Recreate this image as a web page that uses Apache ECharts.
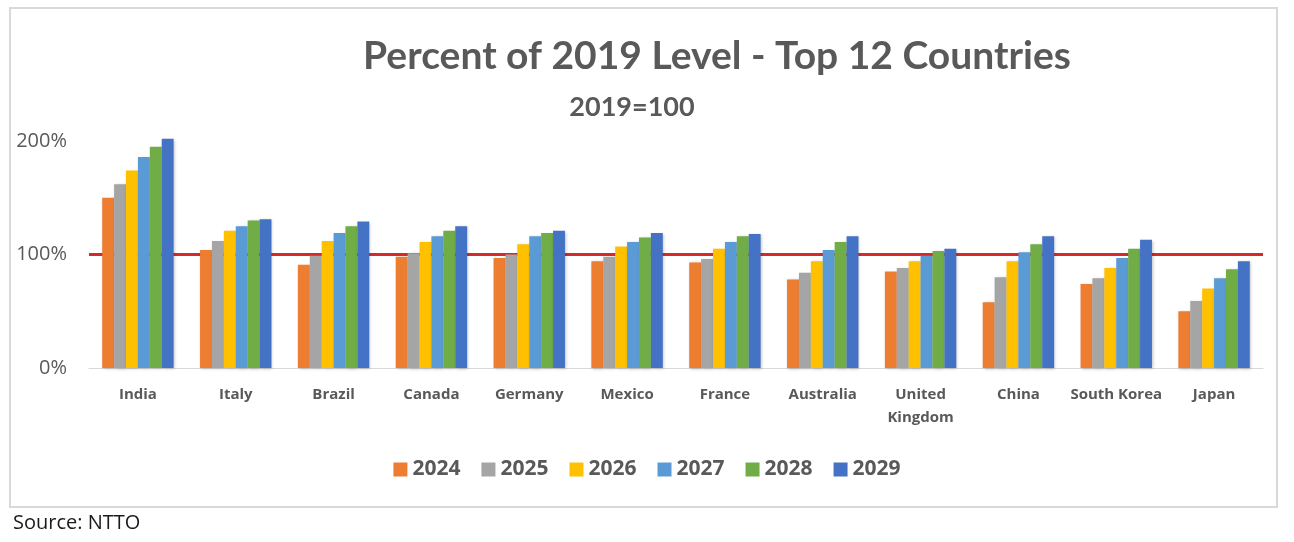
<!DOCTYPE html>
<html><head><meta charset="utf-8">
<script src="https://cdn.jsdelivr.net/npm/echarts@6/dist/echarts.min.js"></script>
<style>html,body{margin:0;padding:0;background:#fff}#c{width:1294px;height:542px}</style>
</head><body><div id="c"></div>
<script>
const countries = ['India','Italy','Brazil','Canada','Germany','Mexico','France','Australia','United\nKingdom','China','South Korea','Japan'];
const years = ['2024','2025','2026','2027','2028','2029'];
const v2024 = [150,104,91,98,97,94,93,78,85,58,74,50];
const v2025 = [162,112,99,101,100,98,96,84,88,80,79,59];
const v2026 = [174,121,112,111,109,107,105,94,94,94,88,70];
const v2027 = [186,125,119,116,116,111,111,104,99,102,97,79];
const v2028 = [195,130,125,121,119,115,116,111,103,109,105,87];
const v2029 = [202,131,129,125,121,119,118,116,105,116,113,94];
const yTicks = [0,100,200];
const baseline = 100;
const colors = ['#ED7D31','#A5A5A5','#FFC000','#5B9BD5','#70AD47','#4472C4'];
const allValues = [v2024,v2025,v2026,v2027,v2028,v2029];

const chart = echarts.init(document.getElementById('c'), null, {renderer:'canvas'});
const series = years.map((y,i)=>({
  name: y,
  type: 'bar',
  data: allValues[i],
  clip: false,
  barGap: '0%',
  barCategoryGap: '27%',
  itemStyle: {color: colors[i], shadowColor:'rgba(0,0,0,0.25)', shadowBlur:3, shadowOffsetX:1, shadowOffsetY:1},
  z: 2
}));
series[0].markLine = {
  silent: true,
  symbol: 'none',
  label: {show:false},
  lineStyle: {color:'#d42a2a', width:3, type:'solid'},
  data: [{yAxis: baseline}],
  z: 1
};
chart.setOption({
  animation: false,
  backgroundColor: '#fff',
  graphic: [{type:'rect', shape:{x:10, y:8, width:1267, height:499}, style:{fill:'none', stroke:'#d9d9d9', lineWidth:2}, silent:true}],
  title: [
    {text:'Percent of 2019 Level - Top 12 Countries', left:717, top:37, padding:0, textAlign:'center',
     textStyle:{fontFamily:'Lato', fontWeight:'bold', fontSize:39, color:'#595959'}},
    {text:'2019=100', left:632, top:94, padding:0, textAlign:'center',
     textStyle:{fontFamily:'Lato', fontWeight:'bold', fontSize:27, color:'#595959'}},
    {text:'Source: NTTO', left:13, top:513, padding:0,
     textStyle:{fontFamily:'Open Sans', fontWeight:'normal', fontSize:20, color:'#1a1a1a'}}
  ],
  legend: {
    data: years, left: 'center', top: 459, padding:0, itemWidth: 14, itemHeight: 14, itemGap: 21,
    icon: 'rect',
    textStyle: {fontFamily:'Open Sans', fontWeight:'bold', fontSize:21, color:'#595959'}
  },
  grid: {left: 89, right: 31, top: 141, bottom: 174, containLabel:false},
  xAxis: {
    type: 'category', data: countries,
    axisLine: {lineStyle:{color:'#d9d9d9', width:1}},
    axisTick: {show:false},
    axisLabel: {interval:0, fontFamily:'Open Sans', fontWeight:'bold', fontSize:15, color:'#595959', margin:15, lineHeight:23}
  },
  yAxis: {
    type: 'value', min: yTicks[0], max: yTicks[yTicks.length-1], interval: yTicks[1]-yTicks[0],
    axisLine: {show:false}, axisTick:{show:false}, splitLine:{show:false},
    axisLabel: {formatter:'{value}%', fontFamily:'Open Sans', fontSize:20, color:'#595959', margin:22}
  },
  series: series
});
</script></body></html>
